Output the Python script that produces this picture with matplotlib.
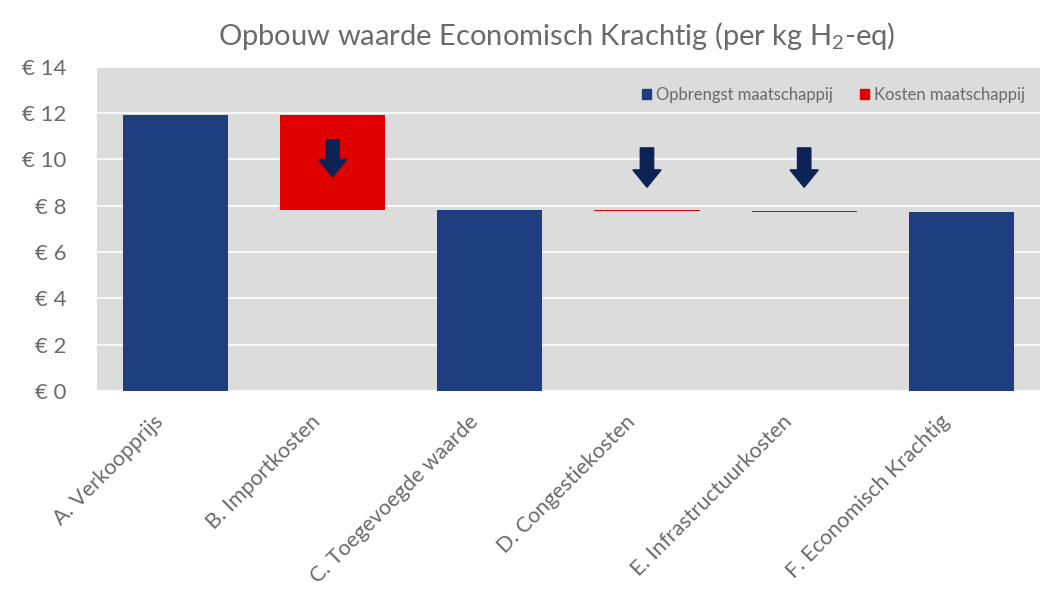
import matplotlib
matplotlib.use("Agg")
import matplotlib.pyplot as plt
from matplotlib.patches import FancyArrow, Patch
from matplotlib.transforms import ScaledTranslation
import numpy as np

categories = ["A. Verkoopprijs", "B. Importkosten", "C. Toegevoegde waarde",
              "D. Congestiekosten", "E. Infrastructuurkosten", "F. Economisch Krachtig"]
# kind: 'rev' = Opbrengst (total bar from 0), 'cost' = Kosten (floating bar)
kinds = ["rev", "cost", "rev", "cost", "cost", "rev"]
values = [11.9, 4.1, 7.8, 0.04, 0.04, 7.75]
yticks = [0, 2, 4, 6, 8, 10, 12, 14]
ytick_labels = ["€ 0", "€ 2", "€ 4", "€ 6", "€ 8", "€ 10", "€ 12", "€ 14"]
legend_labels = ["Opbrengst maatschappij", "Kosten maatschappij"]

navy = "#1f3e7f"
red = "#e00000"
arrow_col = "#0d2356"
bg = "#dcdcdc"
txt = "#6a6a6a"

plt.rcParams['font.family'] = ['Lato', 'DejaVu Sans']
plt.rcParams['mathtext.fontset'] = 'custom'
plt.rcParams['mathtext.rm'] = 'Lato'
plt.rcParams['mathtext.it'] = 'Lato'

fig = plt.figure(figsize=(10.41, 6.08), dpi=100)
ax = fig.add_axes([0.093, 0.357, 0.906, 0.533])
ax.set_facecolor(bg)

x = np.arange(len(categories))
width = 0.67
running = 0.0
for i, (k, v) in enumerate(zip(kinds, values)):
    if k == "rev":
        ax.bar(i, v, width=width, color=navy, zorder=3)
        running = v
    else:
        ax.bar(i, v, bottom=running - v, width=width, color=red, zorder=3)
        running = running - v

# down arrows on cost bars
arrow_tail = {1: 10.85, 3: 10.5, 4: 10.5}
arrow_len = {1: 1.6, 3: 1.7, 4: 1.7}
for i, yt in arrow_tail.items():
    ax.add_patch(FancyArrow(i, yt, 0, -arrow_len[i], width=0.085, head_width=0.18,
                            head_length=0.75, length_includes_head=True,
                            color=arrow_col, zorder=4))

ax.set_xlim(-0.5, len(categories) - 0.5)
ax.set_ylim(0, 14)
ax.set_yticks(yticks)
ax.set_yticklabels(ytick_labels, fontsize=16, color=txt)
ax.set_xticks(x)
ax.set_xticklabels(categories, rotation=45, ha='right', rotation_mode='anchor',
                   fontsize=15.5, color=txt)
ax.tick_params(axis='y', length=0, pad=22)
ax.tick_params(axis='x', length=0, pad=15)
ax.yaxis.grid(True, color='white', linewidth=1.2, zorder=0)
ax.set_axisbelow(True)
for s in ax.spines.values():
    s.set_visible(False)

handles = [Patch(color=navy), Patch(color=red)]
ax.legend(handles, legend_labels, loc='upper right', frameon=False, ncol=2,
          handlelength=0.55, handleheight=0.55, handletextpad=0.3,
          columnspacing=1.6, labelcolor=txt, bbox_to_anchor=(1.0, 0.985),
          prop={'size': 12})

fig.text(0.535, 0.94, r"Opbouw waarde Economisch Krachtig (per kg H$_2$-eq)",
         ha='center', va='center', fontsize=21, color=txt)

fig.canvas.draw()
offset = ScaledTranslation(-22 / 100, 0, fig.dpi_scale_trans)
for tick in ax.xaxis.get_major_ticks():
    tick.label1.set_transform(tick.label1.get_transform() + offset)

fig.savefig("out.png", dpi=100, facecolor='white')
